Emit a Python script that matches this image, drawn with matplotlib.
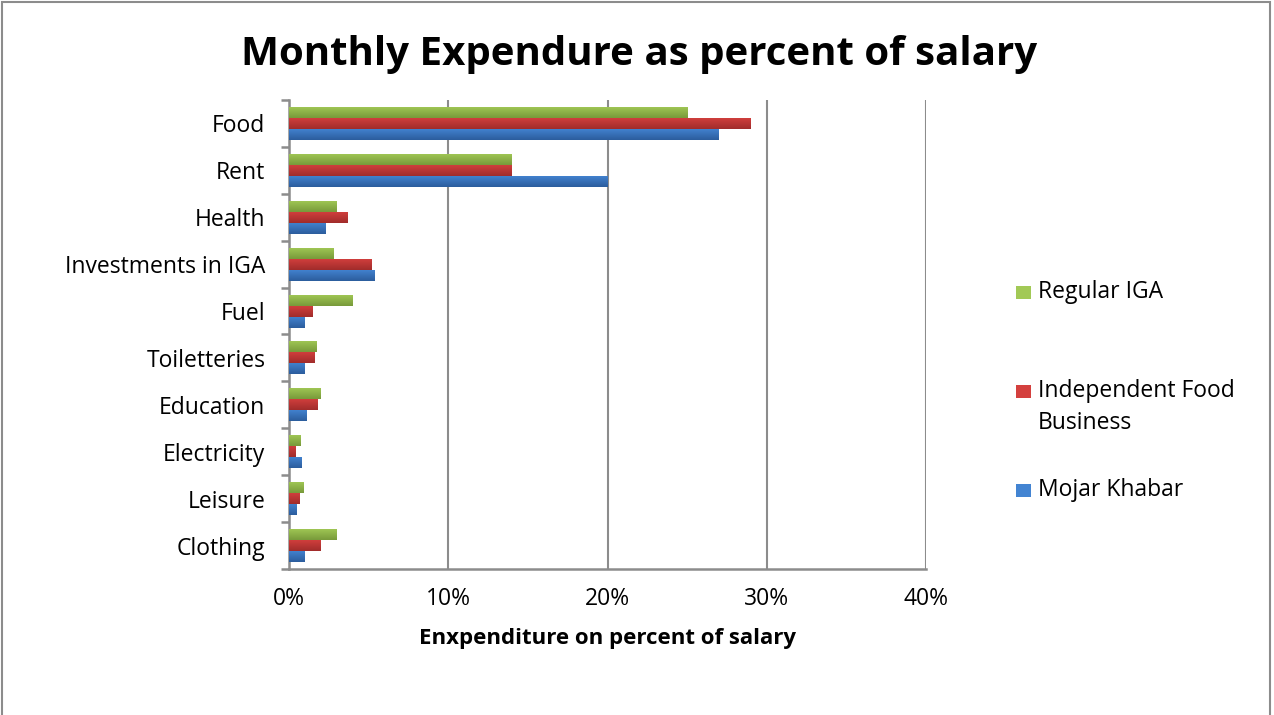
import matplotlib.pyplot as plt
import numpy as np
from matplotlib.colors import LinearSegmentedColormap
from matplotlib.patches import Rectangle
from matplotlib.ticker import FuncFormatter, MultipleLocator

CATEGORIES = [
    "Food",
    "Rent",
    "Health",
    "Investments in IGA",
    "Fuel",
    "Toiletteries",
    "Education",
    "Electricity",
    "Leisure",
    "Clothing",
]
# percent of salary, in category order
REGULAR_IGA = [25.0, 14.0, 3.0, 2.8, 4.0, 1.7, 2.0, 0.7, 0.9, 3.0]
INDEPENDENT_FOOD = [29.0, 14.0, 3.7, 5.2, 1.5, 1.6, 1.8, 0.4, 0.65, 2.0]
MOJAR_KHABAR = [27.0, 20.0, 2.3, 5.4, 1.0, 1.0, 1.1, 0.8, 0.5, 1.0]

# (label, values, light, dark)
SERIES = [
    ("Regular IGA", REGULAR_IGA, "#a2c956", "#789a3a"),
    ("Independent Food\nBusiness", INDEPENDENT_FOOD, "#d4403e", "#a12c2b"),
    ("Mojar Khabar", MOJAR_KHABAR, "#4384d2", "#2c5d9d"),
]

FONT = ["Open Sans", "DejaVu Sans"]
plt.rcParams["font.family"] = FONT
AXIS_GREY = "#8c8c8c"
W, H = 1274, 715

fig = plt.figure(figsize=(W / 100, H / 100), dpi=100)
ax = fig.add_axes([289 / W, 1 - 569 / H, (926 - 289) / W, (569 - 100) / H])

n = len(CATEGORIES)
ypos = np.arange(n)[::-1].astype(float)
bar_h = 0.235
offsets = [bar_h, 0.0, -bar_h]
grad = np.linspace(0, 1, 64).reshape(-1, 1)
for (name, vals, light, dark), off in zip(SERIES, offsets):
    cmap = LinearSegmentedColormap.from_list(name, [light, dark])
    bars = ax.barh(ypos + off, vals, height=bar_h, color=light, linewidth=0, zorder=3)
    for bar in bars:
        x0, y0 = bar.get_x(), bar.get_y()
        w, h = bar.get_width(), bar.get_height()
        img = ax.imshow(grad, cmap=cmap, aspect="auto", origin="upper",
                        extent=(x0, x0 + w, y0, y0 + h), zorder=3.5)
        img.set_clip_path(bar)

ax.set_xlim(0, 40)
ax.set_ylim(-0.5, n - 0.5)
ax.xaxis.set_major_locator(MultipleLocator(10))
ax.xaxis.set_major_formatter(FuncFormatter(lambda v, _: f"{v:.0f}%"))
ax.grid(axis="x", color=AXIS_GREY, linewidth=1.5, zorder=0)

# category labels centred, tick marks on the category boundaries
ax.set_yticks(ypos)
ax.set_yticklabels(CATEGORIES, fontsize=16.5)
ax.tick_params(axis="y", length=0, pad=17)
ax.set_yticks(np.arange(n + 1) - 0.5, minor=True)
ax.tick_params(axis="y", which="minor", length=6, width=1.8, color=AXIS_GREY)
ax.tick_params(axis="x", length=0, labelsize=16.5, pad=13)

for side in ["top", "right"]:
    ax.spines[side].set_visible(False)
for side in ["left", "bottom"]:
    ax.spines[side].set_color(AXIS_GREY)
    ax.spines[side].set_linewidth(1.8)

ax.set_xlabel("Enxpenditure on percent of salary", fontsize=16, fontweight="bold",
              labelpad=12)

fig.text(0.502, 1 - 55 / H, "Monthly Expendure as percent of salary", ha="center",
         va="center", fontsize=29, fontweight="bold")

# legend: one entry per series, markers evenly spaced
legend_y = [293, 392, 491]
for (name, vals, light, dark), ly in zip(SERIES, legend_y):
    fig.patches.append(Rectangle((1016 / W, 1 - (ly + 6) / H), 15 / W, 13 / H,
                                 transform=fig.transFigure, facecolor=light,
                                 edgecolor="none"))
    fig.text(1038 / W, 1 - (ly - 13) / H, name, ha="left", va="top",
             fontsize=16.5, linespacing=1.45)

# outer chart frame
fig.patches.append(Rectangle((2 / W, -0.01), 1268 / W, 1.0 - 2 / H + 0.01,
                             transform=fig.transFigure, fill=False,
                             edgecolor=AXIS_GREY, linewidth=1.5))

fig.savefig("out.png", dpi=100)
